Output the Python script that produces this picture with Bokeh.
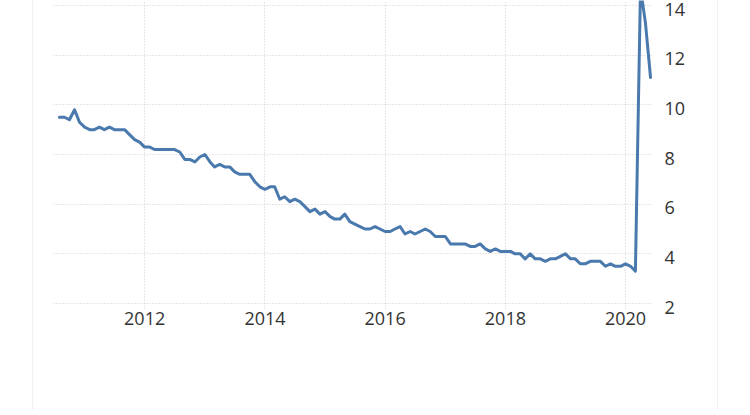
from datetime import datetime
import pandas as pd
from bokeh.plotting import figure
from bokeh.models import (Range1d, FixedTicker, DatetimeTickFormatter,
                          ColumnDataSource, LinearAxis)
from bokeh.embed import file_html
from bokeh.resources import INLINE

# Monthly unemployment rate (%), Aug 2010 - Jun 2020
rate_2010 = [9.5, 9.5, 9.4, 9.8, 9.3]                      # Aug-Dec
rate_2011 = [9.1, 9.0, 9.0, 9.1, 9.0, 9.1, 9.0, 9.0, 9.0, 8.8, 8.6, 8.5]
rate_2012 = [8.3, 8.3, 8.2, 8.2, 8.2, 8.2, 8.2, 8.1, 7.8, 7.8, 7.7, 7.9]
rate_2013 = [8.0, 7.7, 7.5, 7.6, 7.5, 7.5, 7.3, 7.2, 7.2, 7.2, 6.9, 6.7]
rate_2014 = [6.6, 6.7, 6.7, 6.2, 6.3, 6.1, 6.2, 6.1, 5.9, 5.7, 5.8, 5.6]
rate_2015 = [5.7, 5.5, 5.4, 5.4, 5.6, 5.3, 5.2, 5.1, 5.0, 5.0, 5.1, 5.0]
rate_2016 = [4.9, 4.9, 5.0, 5.1, 4.8, 4.9, 4.8, 4.9, 5.0, 4.9, 4.7, 4.7]
rate_2017 = [4.7, 4.4, 4.4, 4.4, 4.4, 4.3, 4.3, 4.4, 4.2, 4.1, 4.2, 4.1]
rate_2018 = [4.1, 4.1, 4.0, 4.0, 3.8, 4.0, 3.8, 3.8, 3.7, 3.8, 3.8, 3.9]
rate_2019 = [4.0, 3.8, 3.8, 3.6, 3.6, 3.7, 3.7, 3.7, 3.5, 3.6, 3.5, 3.5]
rate_2020 = [3.6, 3.5, 3.3, 14.7, 13.3, 11.1]               # Jan-Jun

first_month = "2010-08-01"
tick_years = [2012, 2014, 2016, 2018, 2020]
y_ticks = [2, 4, 6, 8, 10, 12, 14]

values = (rate_2010 + rate_2011 + rate_2012 + rate_2013 + rate_2014 + rate_2015
          + rate_2016 + rate_2017 + rate_2018 + rate_2019 + rate_2020)
dates = pd.date_range(start=first_month, periods=len(values), freq="MS")
src = ColumnDataSource(data=dict(date=dates, rate=values))

FONT = "Open Sans"
GRID = "#cdcdcd"
Y0, Y1 = 1.76, 14.2
LABEL_DROP = 0.15   # labels sit a few px below their grid lines, as in the reference

p = figure(
    width=686, height=410,
    x_axis_type="datetime", y_axis_location=None,
    x_range=Range1d(datetime(2010, 6, 26), datetime(2020, 6, 19)),
    y_range=Range1d(Y0, Y1),
    output_backend="svg", toolbar_location=None,
    min_border_left=20, min_border_right=66, min_border_top=0, min_border_bottom=101,
)
p.extra_y_ranges = {"labels": Range1d(Y0 + LABEL_DROP, Y1 + LABEL_DROP)}
p.styles = {"margin-left": "32px", "margin-top": "0px",
            "border-left": "1px solid #f1f1f1", "border-right": "1px solid #f1f1f1"}
p.outline_line_color = None
p.background_fill_color = "white"
p.border_fill_color = "white"

p.line("date", "rate", source=src, line_color="#4a79ad", line_width=3,
       line_join="round", line_cap="round")

yax = LinearAxis(y_range_name="labels", ticker=FixedTicker(ticks=y_ticks))
p.add_layout(yax, "right")
p.ygrid.ticker = FixedTicker(ticks=y_ticks)

tick_ms = [datetime(y, 1, 1).timestamp() * 1000 for y in tick_years]
p.xaxis.ticker = FixedTicker(ticks=tick_ms)
p.xaxis.formatter = DatetimeTickFormatter(years="%Y", months="%Y", days="%Y", hours="%Y")

for ax in (p.xaxis[0], yax):
    ax.axis_line_color = None
    ax.minor_tick_line_color = None
    ax.major_label_text_font = FONT
    ax.major_label_text_font_size = "18px"
    ax.major_label_text_color = "#333333"

p.xaxis.major_tick_line_color = None
p.xaxis.major_tick_out = 0
p.xaxis.major_tick_in = 0
p.xaxis.major_label_standoff = 2

yax.major_tick_line_color = None
yax.major_label_standoff = 5

p.xgrid.grid_line_color = GRID
p.xgrid.grid_line_dash = "1 2"
p.ygrid.grid_line_color = GRID
p.ygrid.grid_line_dash = "1 2"

open("out.html", "w").write(file_html(p, INLINE))
